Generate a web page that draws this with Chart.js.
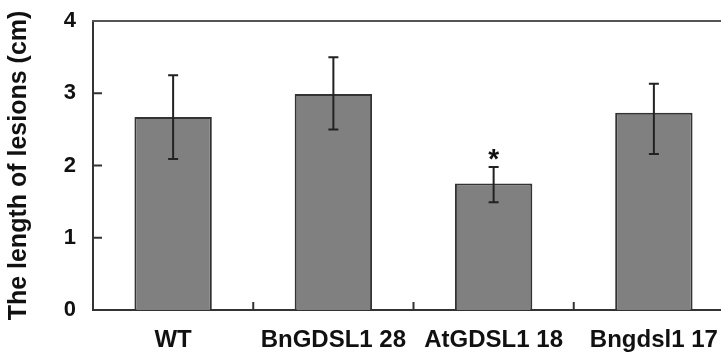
<!DOCTYPE html>
<html>
<head>
<meta charset="utf-8">
<script src="https://cdn.jsdelivr.net/npm/chart.js@4.4.0/dist/chart.umd.min.js"></script>
<style>
  html, body { margin: 0; padding: 0; background: #fff; overflow: hidden; }
  #wrap { width: 740px; height: 355px; }
</style>
</head>
<body>
<div id="wrap"><canvas id="lesionChart"></canvas></div>
<script>
const lines = ['WT', 'BnGDSL1 28', 'AtGDSL1 18', 'Bngdsl1 17'];
const lesionLength = [2.67, 2.99, 1.75, 2.73];
const errUp = [0.58, 0.51, 0.23, 0.40];
const errDown = [0.58, 0.49, 0.26, 0.57];
const marks = ['', '', '*', ''];
const yTicks = [0, 1, 2, 3, 4];

const fontFamily = '"Liberation Sans", Arial, sans-serif';

// error bars, significance star, inner tick marks and top frame line
const extras = {
    id: 'extras',
    afterDatasetsDraw(chart) {
        const ctx = chart.ctx;
        const y = chart.scales.y;
        const meta = chart.getDatasetMeta(0);
        ctx.save();
        ctx.strokeStyle = '#222';
        ctx.lineWidth = 2;
        meta.data.forEach((bar, i) => {
            const top = y.getPixelForValue(lesionLength[i] + errUp[i]);
            const bot = y.getPixelForValue(lesionLength[i] - errDown[i]);
            ctx.beginPath();
            ctx.moveTo(bar.x, top);
            ctx.lineTo(bar.x, bot);
            ctx.moveTo(bar.x - 5, top);
            ctx.lineTo(bar.x + 5, top);
            ctx.moveTo(bar.x - 5, bot);
            ctx.lineTo(bar.x + 5, bot);
            ctx.stroke();
            if (marks[i]) {
                ctx.fillStyle = '#111';
                ctx.font = 'bold 28px ' + fontFamily;
                ctx.textAlign = 'center';
                ctx.textBaseline = 'alphabetic';
                ctx.fillText(marks[i], bar.x, top + 1);
            }
        });
        ctx.restore();
    },
    afterDraw(chart) {
        const ctx = chart.ctx;
        const area = chart.chartArea;
        const x = chart.scales.x;
        const y = chart.scales.y;
        ctx.save();
        ctx.lineWidth = 2;
        ctx.strokeStyle = '#555';
        ctx.beginPath();
        ctx.moveTo(area.left - 1, area.top);
        ctx.lineTo(area.right, area.top);
        ctx.stroke();
        ctx.strokeStyle = '#333';
        ctx.beginPath();
        yTicks.slice(1, -1).forEach(v => {
            const py = y.getPixelForValue(v);
            ctx.moveTo(area.left, py);
            ctx.lineTo(area.left + 9, py);
        });
        for (let i = 1; i < lines.length; i++) {
            const px = (x.getPixelForTick(i - 1) + x.getPixelForTick(i)) / 2;
            ctx.moveTo(px, area.bottom);
            ctx.lineTo(px, area.bottom - 8);
        }
        ctx.stroke();
        ctx.restore();
    }
};

new Chart(document.getElementById('lesionChart'), {
    type: 'bar',
    data: {
        labels: lines,
        datasets: [{
            data: lesionLength,
            backgroundColor: '#808080',
            borderColor: '#333',
            borderWidth: 2,
            barPercentage: 0.483,
            categoryPercentage: 1
        }]
    },
    options: {
        responsive: true,
        maintainAspectRatio: false,
        animation: false,
        layout: { padding: { top: 21, right: 6, left: 0, bottom: 0 } },
        plugins: {
            legend: { display: false },
            tooltip: { enabled: false }
        },
        scales: {
            x: {
                grid: { display: false, drawTicks: false },
                border: { display: true, color: '#333', width: 2 },
                ticks: {
                    color: '#111',
                    padding: 16,
                    font: { family: fontFamily, size: 24, weight: 'bold' }
                },
                afterFit(scale) {
                    scale.height = 45;
                    scale.paddingLeft = 0;
                    scale.paddingRight = 0;
                }
            },
            y: {
                min: 0,
                max: 4,
                afterBuildTicks(scale) { scale.ticks = yTicks.map(v => ({ value: v })); },
                grid: { display: false, drawTicks: false },
                border: { display: true, color: '#333', width: 2 },
                ticks: {
                    color: '#111',
                    padding: 17,
                    font: { family: fontFamily, size: 22, weight: 'bold' }
                },
                title: {
                    display: true,
                    text: 'The length of lesions (cm)',
                    color: '#111',
                    padding: { top: 4, bottom: 0 },
                    font: { family: fontFamily, size: 25, weight: 'bold' }
                },
                afterFit(scale) {
                    scale.width = 93;
                    scale.paddingTop = 0;
                    scale.paddingBottom = 0;
                }
            }
        }
    },
    plugins: [extras]
});
</script>
</body>
</html>
